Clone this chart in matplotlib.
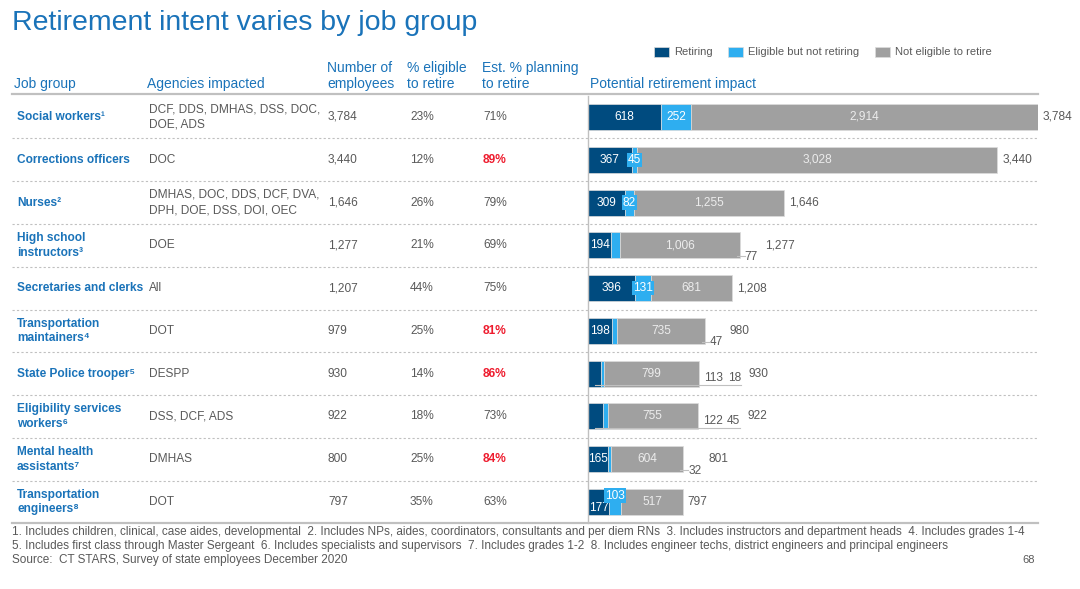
import matplotlib
matplotlib.use("Agg")
import matplotlib.pyplot as plt
from matplotlib.transforms import blended_transform_factory
import numpy as np

plt.rcParams['font.family'] = ['Liberation Sans', 'DejaVu Sans']

# ---- data ----
job_groups = ['Social workers\u00b9', 'Corrections officers', 'Nurses\u00b2',
              'High school\ninstructors\u00b3', 'Secretaries and clerks',
              'Transportation\nmaintainers\u2074', 'State Police trooper\u2075',
              'Eligibility services\nworkers\u2076', 'Mental health\nassistants\u2077',
              'Transportation\nengineers\u2078']
agencies = ['DCF, DDS, DMHAS, DSS, DOC,\nDOE, ADS', 'DOC',
            'DMHAS, DOC, DDS, DCF, DVA,\nDPH, DOE, DSS, DOI, OEC', 'DOE', 'All',
            'DOT', 'DESPP', 'DSS, DCF, ADS', 'DMHAS', 'DOT']
employees = [3784, 3440, 1646, 1277, 1207, 979, 930, 922, 800, 797]
pct_eligible = [23, 12, 26, 21, 44, 25, 14, 18, 25, 35]
pct_planning = [71, 89, 79, 69, 75, 81, 86, 73, 84, 63]
retiring = [618, 367, 309, 194, 396, 198, 113, 122, 165, 177]
eligible_not = [252, 45, 82, 77, 131, 47, 18, 45, 32, 103]
not_eligible = [2914, 3028, 1255, 1006, 681, 735, 799, 755, 604, 517]
series_names = ['Retiring', 'Eligible but not retiring', 'Not eligible to retire']
headers = ['Job group', 'Agencies impacted', 'Number of\nemployees',
           '% eligible\nto retire', 'Est. % planning\nto retire']
footnotes = ['1. Includes children, clinical, case aides, developmental  2. Includes NPs, aides, coordinators, consultants and per diem RNs  3. Includes instructors and department heads  4. Includes grades 1-4',
             '5. Includes first class through Master Sergeant  6. Includes specialists and supervisors  7. Includes grades 1-2  8. Includes engineer techs, district engineers and principal engineers',
             'Source:  CT STARS, Survey of state employees December 2020']
page_no = '68'

# label placement (style, not data)
retire_out = [False, False, False, False, False, False, True, True, False, False]
elig_out = [False, False, False, True, False, True, True, True, True, False]
in_dy = {9: (0.15, -0.15)}

# ---- colours ----
NAVY = '#004b7f'
LIGHT = '#2eaef0'
GREY = '#a0a0a0'
BLUE = '#1a73b9'
TXT = '#595959'
RED = '#ee1c2e'
LINE = '#c0c0c0'

W, H = 1080, 589
fig = plt.figure(figsize=(W / 100, H / 100), dpi=100)

# overlay in pixel coords for text/lines
ov = fig.add_axes([0, 0, 1, 1])
ov.set_xlim(0, W)
ov.set_ylim(H, 0)
ov.axis('off')

# bar axes
n = len(job_groups)
ax_left, ax_right = 588, 1038
ax_top, ax_bot = 95.6, 523.4
ax = fig.add_axes([ax_left / W, 1 - ax_bot / H, (ax_right - ax_left) / W, (ax_bot - ax_top) / H])
ax.patch.set_alpha(0)
y = np.arange(n)
r = np.array(retiring)
e = np.array(eligible_not)
ne = np.array(not_eligible)
totals = r + e + ne
ax.set_xlim(0, totals.max())
ax.set_ylim(n - 0.5, -0.5)
bh = 0.61
b1 = ax.barh(y, r, height=bh, color=NAVY, edgecolor='#dcdcdc', linewidth=0.5, label=series_names[0])
b2 = ax.barh(y, e, left=r, height=bh, color=LIGHT, edgecolor='#dcdcdc', linewidth=0.5, label=series_names[1])
b3 = ax.barh(y, ne, left=r + e, height=bh, color=GREY, edgecolor='#dcdcdc', linewidth=0.5, label=series_names[2])
ax.set_xticks([])
ax.set_yticks([])
for s in ['top', 'right', 'bottom']:
    ax.spines[s].set_visible(False)
ax.spines['left'].set_color(LINE)
ax.spines['left'].set_linewidth(1)

upp = totals.max() / (ax_right - ax_left)  # data units per pixel


def txt_w(s):
    return sum(3.3 if c == ',' else 6.5 for c in s) * upp


fs = 8.6
for i in range(n):
    dy_r, dy_e = in_dy.get(i, (0, 0))
    # in-bar labels
    if not retire_out[i]:
        ax.text(r[i] / 2, i + dy_r, f'{r[i]:,}', ha='center', va='center', color='white', fontsize=fs)
    if not elig_out[i]:
        ax.text(r[i] + e[i] / 2, i + dy_e, f'{e[i]:,}', ha='center', va='center', color='white', fontsize=fs,
                bbox=dict(boxstyle='square,pad=0.1', fc=LIGHT, ec='none'))
    ax.text(r[i] + e[i] + ne[i] / 2, i, f'{ne[i]:,}', ha='center', va='center', color='#ececec', fontsize=fs)

    # outside labels with leader line
    outs = []
    if retire_out[i]:
        outs.append((r[i] / 2, r[i]))
    if elig_out[i]:
        outs.append((r[i] + e[i] / 2, e[i]))
    x = totals[i] + 5 * upp
    if outs:
        two = len(outs) > 1
        ty = i + (0.1 if two else 0.27)
        ly = i + 0.26
        x0 = outs[0][0] if two else totals[i] - 3 * upp
        for _, v in outs:
            s = f'{v:,}'
            ax.text(x, ty, s, ha='left', va='center', color=TXT, fontsize=fs)
            x += txt_w(s) + 5 * upp
        xend = x - 5 * upp if two else totals[i] + 5 * upp
        ax.plot([x0, xend], [ly, ly], color=LINE, lw=0.8, clip_on=False, zorder=5)
        x += 2 * upp
    ax.text(x, i, f'{totals[i]:,}', ha='left', va='center', color=TXT, fontsize=fs)

# ---- table ----
tr = blended_transform_factory(ov.transData, ax.transData)
col_x = [17, 149, 328, 410, 483]
for i in range(n):
    ov.text(col_x[0], i, job_groups[i], transform=tr, ha='left', va='center', color=BLUE,
            fontsize=fs, fontweight='bold', linespacing=1.3)
    ov.text(col_x[1], i, agencies[i], transform=tr, ha='left', va='center', color=TXT,
            fontsize=fs, linespacing=1.35)
    ov.text(col_x[2], i, f'{employees[i]:,}', transform=tr, ha='left', va='center', color=TXT, fontsize=fs)
    ov.text(col_x[3], i, f'{pct_eligible[i]}%', transform=tr, ha='left', va='center', color=TXT, fontsize=fs)
    hot = pct_planning[i] >= 80
    ov.text(col_x[4], i, f'{pct_planning[i]}%', transform=tr, ha='left', va='center',
            color=RED if hot else TXT, fontsize=fs, fontweight='bold' if hot else 'normal')
    if i < n - 1:
        ov.plot([12, ax_right], [i + 0.5, i + 0.5], transform=tr, color=LINE, lw=0.8,
                linestyle=(0, (2, 2)), clip_on=False)

head_x = [14, 147, 327, 407, 482]
for hx, h in zip(head_x, headers):
    yy = 84 if '\n' not in h else 76
    ov.text(hx, yy, h, ha='left', va='center', color=BLUE, fontsize=10, linespacing=1.1)
ov.text(590, 84, 'Potential retirement impact', ha='left', va='center', color=BLUE, fontsize=10)
ov.plot([12, ax_right], [93.5, 93.5], color=LINE, lw=1.6)
ov.plot([12, ax_right], [523, 523], color=LINE, lw=1.6)

ov.text(12, 23, 'Retirement intent varies by job group', ha='left', va='center', color=BLUE, fontsize=20.5)

fig.legend(handles=[b1, b2, b3], loc='center', bbox_to_anchor=(823 / W, 1 - 52 / H), ncol=3,
           frameon=False, fontsize=8, labelcolor=TXT, handlelength=1.3, handleheight=1.0,
           handletextpad=0.5, columnspacing=1.4)

for k, line in enumerate(footnotes):
    ov.text(12, 532 + 14 * k, line, ha='left', va='center', color=TXT, fontsize=8.45)
ov.text(1035, 560, page_no, ha='right', va='center', color=TXT, fontsize=8)

fig.savefig('out.png', dpi=100)
